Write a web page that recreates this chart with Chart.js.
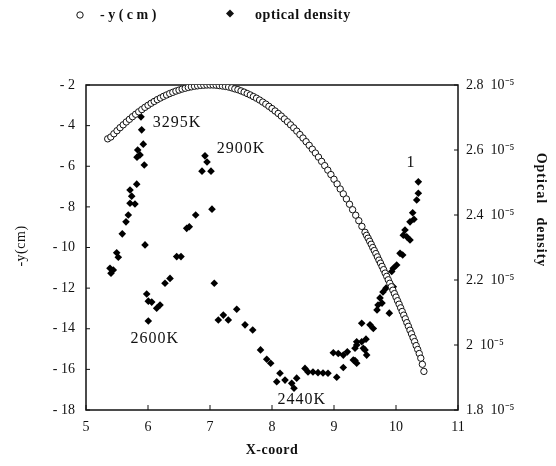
<!DOCTYPE html>
<html><head><meta charset="utf-8">
<script src="https://cdn.jsdelivr.net/npm/chart.js@4.4.1/dist/chart.umd.min.js"></script>
<style>html,body{margin:0;padding:0;background:#fff}#wrap{width:556px;height:466px;position:relative}canvas{display:block}</style>
</head><body><div id="wrap"><canvas id="c" width="556" height="466"></canvas></div>
<script>
// -y(cm) curve (open circles)
const curveX = [5.35,5.40,5.45,5.50,5.55,5.60,5.65,5.70,5.75,5.80,5.85,5.90,5.95,6.00,6.05,6.10,6.15,6.20,6.25,6.30,6.35,6.40,6.45,6.50,6.55,6.60,6.65,6.70,6.75,6.80,6.85,6.90,6.95,7.00,
7.05,7.10,7.15,7.20,7.25,7.30,7.35,7.40,7.45,7.50,7.55,7.60,7.65,7.70,7.75,7.80,7.85,7.90,7.95,8.00,8.05,8.10,8.15,8.20,8.25,8.30,8.35,8.40,8.45,8.50,8.55,8.60,8.65,8.70,8.75,8.80,8.85,8.90,8.95,9.00,9.05,9.10,9.15,9.20,9.25,9.30,9.35,9.40,9.45,9.50,
9.525,9.55,9.575,9.60,9.625,9.65,9.675,9.70,9.725,9.75,9.775,9.80,9.825,9.85,9.875,9.90,9.925,9.95,9.975,10.00,10.025,10.05,10.075,10.10,10.125,10.15,10.175,10.20,10.225,10.25,10.275,10.30,10.325,10.35,10.375,10.40,10.425,10.45];
const curveY = [-4.65,-4.56,-4.40,-4.25,-4.10,-3.96,-3.82,-3.69,-3.56,-3.44,-3.32,-3.21,-3.10,-3.00,-2.90,-2.81,-2.72,-2.64,-2.56,-2.49,-2.42,-2.36,-2.30,-2.25,-2.20,-2.16,-2.12,-2.09,-2.06,-2.04,-2.02,-2.01,-2.00,-2.00,
-2.00,-2.01,-2.03,-2.05,-2.07,-2.10,-2.14,-2.19,-2.23,-2.29,-2.35,-2.42,-2.49,-2.57,-2.65,-2.74,-2.84,-2.94,-3.05,-3.16,-3.28,-3.40,-3.53,-3.67,-3.81,-3.96,-4.11,-4.27,-4.44,-4.61,-4.79,-4.97,-5.16,-5.35,-5.55,-5.76,-5.97,-6.19,-6.41,-6.64,-6.87,-7.12,-7.36,-7.61,-7.87,-8.14,-8.41,-8.68,-8.96,-9.25,
-9.40,-9.54,-9.69,-9.84,-10.00,-10.15,-10.30,-10.46,-10.62,-10.77,-10.93,-11.09,-11.26,-11.42,-11.59,-11.76,-11.93,-12.10,-12.27,-12.44,-12.62,-12.79,-12.97,-13.15,-13.33,-13.51,-13.70,-13.88,-14.07,-14.25,-14.44,-14.63,-14.83,-15.02,-15.22,-15.45,-15.75,-16.10];

// optical density (filled diamonds), values in units of 10^-5
const odX = [5.887,5.898,5.924,5.834,5.823,5.871,5.940,5.818,5.710,5.737,5.710,5.790,5.682,5.645,5.585,5.495,5.521,5.387,5.440,5.403,
5.952,5.979,6.005,6.060,6.140,6.194,6.005,6.274,6.355,6.463,6.532,6.624,6.666,6.769,7.032,
6.919,6.952,6.871,7.016,
7.069,7.134,7.215,7.295,7.431,7.565,7.689,7.815,7.915,7.979,8.129,8.076,8.210,8.318,8.355,8.398,
8.532,8.581,8.661,8.742,8.823,8.903,9.044,9.150,
8.989,9.069,9.150,9.215,9.339,9.366,9.366,9.339,9.447,9.527,9.500,9.516,9.447,9.581,9.634,9.366,9.473,9.311,
9.710,9.742,9.790,9.839,9.694,9.774,9.892,9.956,
9.931,9.956,10.011,10.065,10.108,10.118,10.145,10.173,10.226,10.226,10.269,10.290,10.334,10.360,10.360];
const odY = [2.702,2.662,2.618,2.600,2.578,2.585,2.554,2.495,2.477,2.458,2.436,2.434,2.400,2.379,2.342,2.284,2.270,2.236,2.231,2.221,
2.308,2.157,2.135,2.132,2.113,2.123,2.074,2.190,2.205,2.272,2.272,2.359,2.364,2.400,2.418,
2.582,2.563,2.535,2.535,
2.190,2.077,2.092,2.077,2.110,2.062,2.046,1.985,1.956,1.944,1.913,1.887,1.892,1.882,1.867,1.898,
1.928,1.917,1.917,1.915,1.914,1.913,1.901,1.931,
1.976,1.974,1.969,1.979,1.952,1.944,2.000,1.990,2.010,1.969,1.985,2.018,2.067,2.062,2.051,2.010,1.990,1.954,
2.123,2.145,2.163,2.175,2.108,2.129,2.098,2.179,
2.226,2.236,2.246,2.282,2.277,2.338,2.354,2.333,2.323,2.379,2.407,2.387,2.446,2.467,2.502];

const xTickValues = [5,6,7,8,9,10,11];
const xTickLabels = ['5','6','7','8','9','10','11'];
const yTickValues = [-18,-16,-14,-12,-10,-8,-6,-4,-2];
const yTickLabels = ['- 18','- 16','- 14','- 12','- 10','- 8','- 6','- 4','- 2'];
const odTickValues = [1.8,2.0,2.2,2.4,2.6,2.8];
const odTickLabels = ['1.8  10\u207B\u2075','2  10\u207B\u2075','2.2  10\u207B\u2075','2.4  10\u207B\u2075','2.6  10\u207B\u2075','2.8  10\u207B\u2075'];

const seriesNames = ['-y(cm)','optical density'];
const noteTexts = ['3295K','2900K','2600K','2440K','1'];
const noteX = [6.47,7.50,6.11,8.48,10.24];
const noteY = [-3.87,-5.15,-14.51,-17.51,-5.84];

const SERIF = "'Liberation Serif','Times New Roman',serif";
Chart.defaults.font.family = SERIF;
Chart.defaults.color = '#111';

const decor = {
  id: 'decor',
  beforeDatasetsDraw(chart) {
    const {ctx, chartArea: a, scales} = chart;
    ctx.save();
    ctx.strokeStyle = '#111';
    ctx.lineWidth = 1.5;
    ctx.strokeRect(a.left, a.top, a.right - a.left, a.bottom - a.top);
    ctx.lineWidth = 1;
    ctx.beginPath();
    scales.y.ticks.forEach(t => { const p = scales.y.getPixelForValue(t.value); ctx.moveTo(a.left, p); ctx.lineTo(a.left + 4, p); });
    scales.y2.ticks.forEach(t => { const p = scales.y2.getPixelForValue(t.value); ctx.moveTo(a.right, p); ctx.lineTo(a.right - 4, p); });
    scales.x.ticks.forEach(t => { const p = scales.x.getPixelForValue(t.value); ctx.moveTo(p, a.bottom); ctx.lineTo(p, a.bottom - 5); });
    ctx.stroke();
    ctx.restore();
  },
  afterDraw(chart) {
    const {ctx, chartArea: a, scales} = chart;
    ctx.save();
    ctx.fillStyle = '#111';
    ctx.font = '16px ' + SERIF;
    ctx.letterSpacing = '1px';
    ctx.textAlign = 'center'; ctx.textBaseline = 'middle';
    noteTexts.forEach((t, i) => ctx.fillText(t, scales.x.getPixelForValue(noteX[i]), scales.y.getPixelForValue(noteY[i])));
    ctx.letterSpacing = '0.5px';
    ctx.font = 'bold 14px ' + SERIF;
    ctx.fillText('X-coord', (a.left + a.right) / 2, 450);
    ctx.save(); ctx.translate(21, 246); ctx.rotate(-Math.PI / 2);
    ctx.font = '14px ' + SERIF; ctx.fillText('-y(cm)', 0, 0); ctx.restore();
    ctx.save(); ctx.translate(541, 210); ctx.rotate(Math.PI / 2);
    ctx.letterSpacing = '1px';
    ctx.font = 'bold 14px ' + SERIF; ctx.fillText('Optical   density', 0, 0); ctx.restore();
    ctx.textAlign = 'left';
    ctx.lineWidth = 1; ctx.strokeStyle = '#111';
    ctx.beginPath(); ctx.arc(80, 15, 3.2, 0, Math.PI * 2); ctx.fillStyle = '#fff'; ctx.fill(); ctx.stroke();
    ctx.fillStyle = '#111';
    ctx.font = 'bold 14px ' + SERIF;
    ctx.letterSpacing = '3.5px';
    ctx.fillText(seriesNames[0], 100, 15);
    ctx.beginPath(); ctx.moveTo(230, 9.5); ctx.lineTo(234, 13.5); ctx.lineTo(230, 17.5); ctx.lineTo(226, 13.5); ctx.closePath(); ctx.fill();
    ctx.letterSpacing = '0.6px';
    ctx.fillText(seriesNames[1], 255, 15);
    ctx.restore();
  }
};

new Chart(document.getElementById('c'), {
  type: 'scatter',
  data: {
    datasets: [
      { label: seriesNames[0], data: curveX.map((x, i) => ({x, y: curveY[i]})), yAxisID: 'y',
        pointStyle: 'circle', pointRadius: 3.2, borderWidth: 1, borderColor: '#111', backgroundColor: '#fff', showLine: false },
      { label: seriesNames[1], data: odX.map((x, i) => ({x, y: odY[i]})), yAxisID: 'y2',
        pointStyle: 'rectRot', pointRadius: 3.8, borderWidth: 0, borderColor: '#000', backgroundColor: '#000', showLine: false }
    ]
  },
  options: {
    responsive: false, animation: false, devicePixelRatio: 1,
    layout: { padding: { top: 85, left: 0, right: 0, bottom: 0 } },
    plugins: { legend: { display: false }, tooltip: { enabled: false } },
    scales: {
      x: { type: 'linear', min: 5, max: 11,
        afterBuildTicks: s => { s.ticks = xTickValues.map(v => ({value: v})); },
        afterFit: s => { s.height = 56; },
        grid: { display: false, drawTicks: false }, border: { display: false },
        ticks: { padding: 9, maxRotation: 0, minRotation: 0, font: { size: 14 }, callback: (v, i) => xTickLabels[i] } },
      y: { type: 'linear', position: 'left', min: -18, max: -2,
        afterBuildTicks: s => { s.ticks = yTickValues.map(v => ({value: v})); },
        afterFit: s => { s.width = 86; },
        grid: { display: false, drawTicks: false }, border: { display: false },
        ticks: { padding: 11, font: { size: 14 }, callback: (v, i) => yTickLabels[i] } },
      y2: { type: 'linear', position: 'right', min: 1.8, max: 2.8,
        afterBuildTicks: s => { s.ticks = odTickValues.map(v => ({value: v})); },
        afterFit: s => { s.width = 98; },
        grid: { display: false, drawTicks: false }, border: { display: false },
        ticks: { padding: 8, font: { size: 14 }, callback: (v, i) => odTickLabels[i] } }
    }
  },
  plugins: [decor]
});
</script></body></html>
